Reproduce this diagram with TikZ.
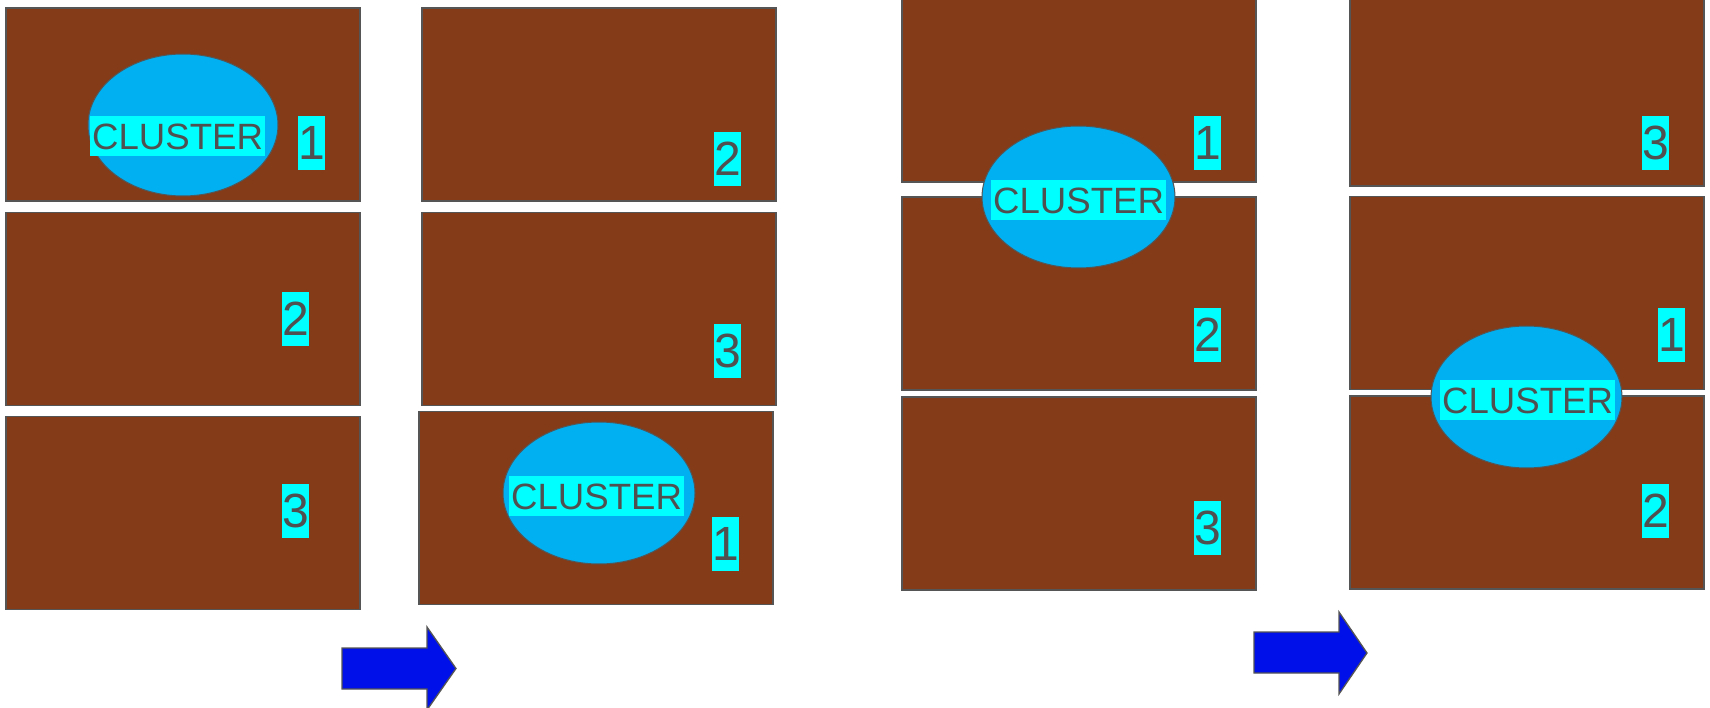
\documentclass[tikz,border=0pt]{standalone}
\usepackage{fontspec}
\setmainfont{Liberation Sans}
\usetikzlibrary{shapes.geometric}
\definecolor{brownfill}{RGB}{132,59,23}
\definecolor{edgegrey}{RGB}{85,85,85}
\definecolor{txtgrey}{RGB}{80,80,80}
\definecolor{skyblue}{RGB}{0,176,240}
\definecolor{labelcyan}{RGB}{0,255,255}
\definecolor{arrowblue}{RGB}{0,16,232}
\tikzset{
  slab/.style={draw=edgegrey, line width=1.3pt, fill=brownfill, anchor=north west,
    minimum width=354pt, minimum height=193pt, inner sep=0pt, outer sep=0pt},
  clusterblob/.style={ellipse, draw=edgegrey, line width=1pt, fill=skyblue, inner sep=0pt, outer sep=0pt},
  clusterlabel/.style={fill=labelcyan, text=txtgrey, anchor=north west, inner xsep=2pt, inner ysep=0pt,
    text height=33pt, text depth=7pt, font=\fontsize{36.6}{40}\selectfont},
  numlabel/.style={fill=labelcyan, text=txtgrey, anchor=north west, inner sep=0pt,
    text height=43.5pt, text depth=10.5pt, font=\fontsize{48}{54}\selectfont},
  bigarrow/.style={draw=edgegrey, line width=1.3pt, fill=arrowblue, line join=miter}
}
\begin{document}
\begin{tikzpicture}[x=1pt,y=-1pt]
\useasboundingbox (0,0) rectangle (1710,708);
\clip (0,0) rectangle (1710,708);
% group 1
\node[slab] (g1a) at (6,8) {};
\node[slab] (g1b) at (6,212.5) {};
\node[slab] (g1c) at (6,416.5) {};
% group 2
\node[slab] (g2a) at (422,8) {};
\node[slab] (g2b) at (422,212.5) {};
\node[slab] (g2c) at (419,411.5) {};
% group 3
\node[slab] (g3a) at (902,-11) {};
\node[slab] (g3b) at (902,197) {};
\node[slab] (g3c) at (902,397) {};
% group 4
\node[slab] (g4a) at (1350,-7) {};
\node[slab] (g4b) at (1350,196.5) {};
\node[slab] (g4c) at (1350,396) {};
% clusters
\node[clusterblob, minimum width=190pt, minimum height=142pt] (e1) at (183,125) {};
\node[clusterblob, minimum width=192pt, minimum height=142pt] (e2) at (599,493) {};
\node[clusterblob, minimum width=193pt, minimum height=142pt] (e3) at (1078.5,197) {};
\node[clusterblob, minimum width=191pt, minimum height=142pt] (e4) at (1526.5,397) {};
\node[clusterlabel] (c1) at (90,116) {CLUSTER};
\node[clusterlabel] (c2) at (509,476) {CLUSTER};
\node[clusterlabel] (c3) at (991,180) {CLUSTER};
\node[clusterlabel] (c4) at (1440,380) {CLUSTER};
% numbers
\node[numlabel] (n11) at (298,116) {1};
\node[numlabel] (n12) at (282,292) {2};
\node[numlabel] (n13) at (282,484) {3};
\node[numlabel] (n22) at (714,132) {2};
\node[numlabel] (n23) at (714,324) {3};
\node[numlabel] (n21) at (712,517) {1};
\node[numlabel] (n31) at (1194,116) {1};
\node[numlabel] (n32) at (1194,308) {2};
\node[numlabel] (n33) at (1194,501) {3};
\node[numlabel] (n43) at (1642,116) {3};
\node[numlabel] (n41) at (1658,308) {1};
\node[numlabel] (n42) at (1642,484) {2};
% arrows
\draw[bigarrow] (342,648) -- (427,648) -- (427,627) -- (456,668.5) -- (427,710) -- (427,689) -- (342,689) -- cycle;
\draw[bigarrow] (1254,632) -- (1339,632) -- (1339,612) -- (1367,653) -- (1339,694) -- (1339,673) -- (1254,673) -- cycle;
\end{tikzpicture}
\end{document}
